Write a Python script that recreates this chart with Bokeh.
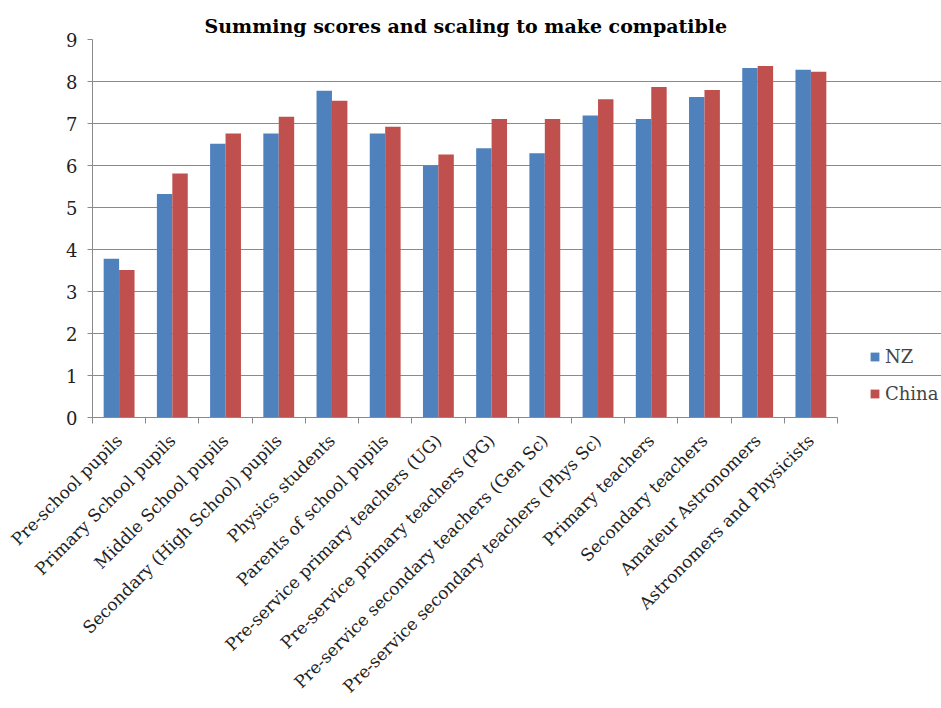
from bokeh.plotting import figure
from bokeh.models import Range1d, FixedTicker, Legend, LegendItem, ColumnDataSource
from bokeh.embed import file_html
from bokeh.resources import INLINE
import math

categories = [
    "Pre-school pupils",
    "Primary School pupils",
    "Middle School pupils",
    "Secondary (High School) pupils",
    "Physics students",
    "Parents of school pupils",
    "Pre-service primary teachers (UG)",
    "Pre-service primary teachers (PG)",
    "Pre-service secondary teachers (Gen Sc)",
    "Pre-service secondary teachers (Phys Sc)",
    "Primary teachers",
    "Secondary teachers",
    "Amateur Astronomers",
    "Astronomers and Physicists",
]
nz = [3.78, 5.32, 6.52, 6.76, 7.78, 6.76, 6.00, 6.41, 6.29, 7.19, 7.11, 7.63, 8.32, 8.28]
china = [3.51, 5.81, 6.76, 7.16, 7.54, 6.92, 6.26, 7.11, 7.11, 7.58, 7.87, 7.80, 8.37, 8.23]
y_ticks = [0, 1, 2, 3, 4, 5, 6, 7, 8, 9]

FONT = "DejaVu Serif"
GRID = "#8a8a8a"

n = len(categories)
centers = [i + 0.5 for i in range(n)]
bw = 0.29

# plot area of 745 px for the 14 categories, extended to the right to hold the legend
PLOT_W = 745
FRAME_W = 849
x_end = n * FRAME_W / PLOT_W

src = ColumnDataSource(dict(
    x_nz=[c - bw / 2 for c in centers],
    x_cn=[c + bw / 2 for c in centers],
    nz=nz, china=china,
))

p = figure(frame_width=FRAME_W, frame_height=378, output_backend="svg", toolbar_location=None,
           x_range=Range1d(0, x_end), y_range=Range1d(0, 9),
           min_border_left=92, min_border_right=0, min_border_top=39, min_border_bottom=291)

p.title.text = "Summing scores and scaling to make compatible"
p.title.text_font = FONT
p.title.text_font_style = "bold"
p.title.text_font_size = "19px"
p.title.align = "left"
p.title.offset = 112
p.title.text_color = "#000000"
p.title.standoff = 6

r_nz = p.vbar(x="x_nz", top="nz", width=bw, source=src, fill_color="#4F81BD", line_color=None)
r_cn = p.vbar(x="x_cn", top="china", width=bw, source=src, fill_color="#C0504D", line_color=None)

p.outline_line_color = None
p.background_fill_color = "white"
p.border_fill_color = "white"

# x axis: labels at centers, ticks at category boundaries
xa = p.xaxis[0]
xa.bounds = (0, n)
xa.ticker = FixedTicker(ticks=centers, minor_ticks=list(range(n + 1)))
xa.major_label_overrides = {c: lab for c, lab in zip(centers, categories)}
xa.major_label_orientation = math.pi / 4
xa.major_tick_out = 0
xa.major_tick_in = 0
xa.minor_tick_out = 6
xa.minor_tick_in = 0
xa.minor_tick_line_color = GRID
xa.axis_line_color = GRID
xa.major_label_text_font = FONT
xa.major_label_text_font_size = "17px"
xa.major_label_text_color = "#222222"
xa.major_label_standoff = 14

ya = p.yaxis[0]
ya.ticker = FixedTicker(ticks=y_ticks)
ya.major_tick_out = 5
ya.major_tick_in = 0
ya.minor_tick_line_color = None
ya.major_tick_line_color = GRID
ya.axis_line_color = GRID
ya.major_label_text_font = FONT
ya.major_label_text_font_size = "18px"
ya.major_label_text_color = "#222222"
ya.major_label_standoff = 10

p.xgrid.grid_line_color = None
p.ygrid.grid_line_color = GRID
p.ygrid.ticker = FixedTicker(ticks=y_ticks)
p.ygrid.bounds = (0, n)

legend = Legend(items=[LegendItem(label="NZ", renderers=[r_nz]),
                       LegendItem(label="China", renderers=[r_cn])],
                location=(777, 13))
legend.margin = 0
legend.padding = 0
legend.border_line_color = None
legend.background_fill_alpha = 0
legend.glyph_width = 11
legend.glyph_height = 11
legend.label_text_font = FONT
legend.label_text_font_size = "18px"
legend.label_standoff = 5
legend.spacing = 15
legend.label_height = 22
p.add_layout(legend, "center")

open("out.html", "w").write(file_html(p, INLINE))
